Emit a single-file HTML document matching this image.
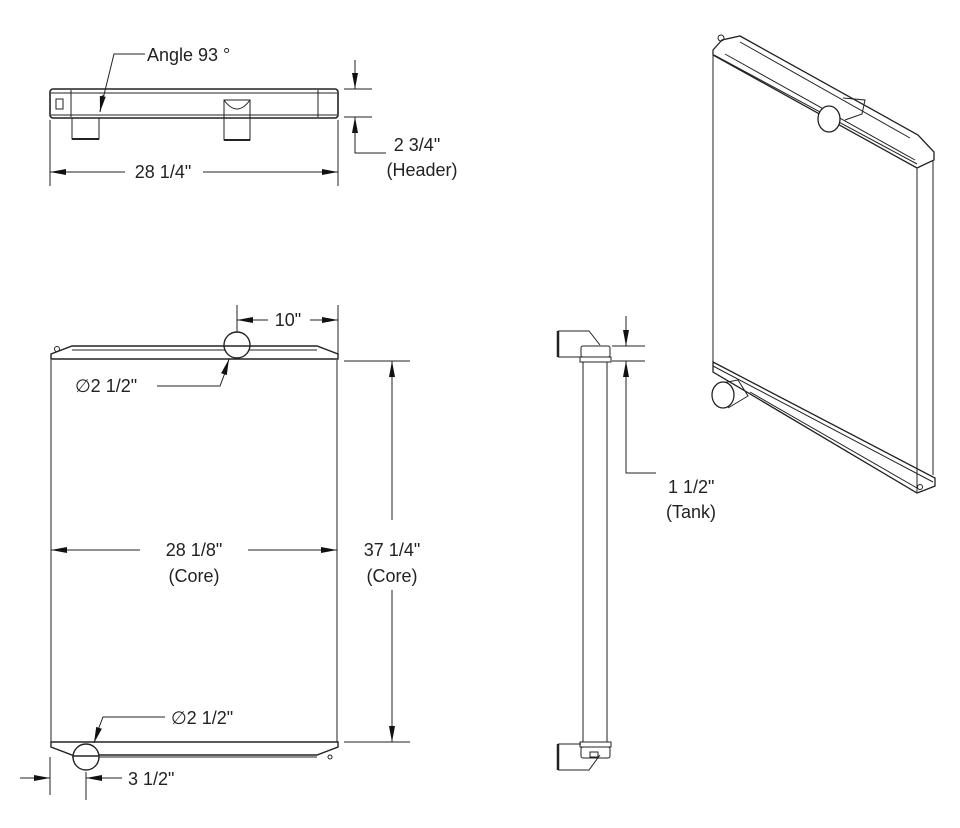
<!DOCTYPE html>
<html><head><meta charset="utf-8"><style>
html,body{margin:0;padding:0;background:#fff}
svg{display:block}
text{font-family:"Liberation Sans","DejaVu Sans",sans-serif;font-size:18px;fill:#222}
</style></head><body>
<svg width="960" height="828" viewBox="0 0 960 828" xmlns="http://www.w3.org/2000/svg">
<defs>
<marker id="a" viewBox="0 0 16 6" refX="16" refY="3" markerWidth="16" markerHeight="6" markerUnits="userSpaceOnUse" orient="auto"><path d="M0,0 L16,3 L0,6 Z" fill="#111"/></marker>
</defs>
<g fill="none" stroke="#222" stroke-width="1">
<!-- TOP VIEW -->
<rect x="50" y="89" width="288" height="29" rx="3" stroke-width="1.6"/>
<line x1="71" y1="90" x2="71" y2="117"/><line x1="318" y1="90" x2="318" y2="117"/>
<line x1="51" y1="93" x2="337" y2="93"/><line x1="51" y1="115" x2="337" y2="115"/>
<rect x="56" y="99" width="7" height="10"/>
<path d="M72 118 V139 H99 V118"/><line x1="72" y1="139" x2="99" y2="139" stroke-width="2"/>
<path d="M224 100 V140 H250 V100 Z M224 100 Q237 118 250 100"/><line x1="224" y1="140" x2="250" y2="140" stroke-width="2"/>
<line x1="50" y1="120" x2="50" y2="186"/><line x1="338" y1="120" x2="338" y2="186"/>
<line x1="125" y1="172" x2="50" y2="172" marker-end="url(#a)"/>
<line x1="203" y1="172" x2="338" y2="172" marker-end="url(#a)"/>
<polyline points="145,54 114,54 100,111"/><line x1="103" y1="95" x2="100" y2="112" marker-end="url(#a)"/>
<line x1="344" y1="89" x2="372" y2="89"/><line x1="344" y1="117" x2="372" y2="117"/>
<line x1="355" y1="60" x2="355" y2="89" marker-end="url(#a)"/>
<line x1="355" y1="145" x2="355" y2="117" marker-end="url(#a)"/>
<polyline points="355,130 355,153 386,153"/>
<!-- FRONT VIEW -->
<path d="M51 359 L51 354 L72 346 H317 L338 354 L338 359 Z" stroke-width="1.4"/>
<line x1="72" y1="350" x2="317" y2="350"/>
<circle cx="57" cy="349" r="2.5"/>
<circle cx="237" cy="345" r="13" fill="#fff" stroke-width="1.4"/><line x1="224" y1="346" x2="250" y2="346" stroke-width="1.5"/>
<line x1="51" y1="360" x2="51" y2="742"/><line x1="337" y1="360" x2="337" y2="742"/>
<path d="M51 742 H338 L338 747 L317 755 H72 L51 747 Z" stroke-width="1.4"/>
<line x1="72" y1="757" x2="317" y2="757"/>
<circle cx="330" cy="757" r="2"/>
<circle cx="86" cy="757" r="13" fill="#fff" stroke-width="1.4"/><line x1="73" y1="756" x2="99" y2="756" stroke-width="1.5"/>
<line x1="237" y1="305" x2="237" y2="332"/><line x1="338" y1="305" x2="338" y2="355"/>
<line x1="268" y1="320" x2="237" y2="320" marker-end="url(#a)"/>
<line x1="310" y1="320" x2="338" y2="320" marker-end="url(#a)"/>
<polyline points="157,386 220,386 226,370"/><line x1="224" y1="374" x2="229" y2="359" marker-end="url(#a)"/>
<line x1="344" y1="361" x2="410" y2="361"/><line x1="344" y1="742" x2="410" y2="742"/>
<line x1="392" y1="520" x2="392" y2="361" marker-end="url(#a)"/>
<line x1="392" y1="590" x2="392" y2="742" marker-end="url(#a)"/>
<line x1="140" y1="550" x2="51" y2="550" marker-end="url(#a)"/>
<line x1="248" y1="550" x2="337" y2="550" marker-end="url(#a)"/>
<polyline points="165,717 103,717 98,730"/><line x1="99" y1="728" x2="94" y2="743" marker-end="url(#a)"/>
<line x1="50" y1="757" x2="50" y2="795"/><line x1="86" y1="772" x2="86" y2="800"/>
<line x1="20" y1="778" x2="50" y2="778" marker-end="url(#a)"/>
<line x1="122" y1="778" x2="86" y2="778" marker-end="url(#a)"/>
<!-- SIDE VIEW -->
<path d="M558 331 H589 L600 345"/><line x1="558" y1="331" x2="558" y2="357" stroke-width="2.5"/><line x1="558" y1="357" x2="581" y2="357"/>
<rect x="581" y="346" width="29" height="11" rx="2"/><rect x="580" y="357" width="31" height="5"/>
<line x1="583" y1="362" x2="583" y2="742"/><line x1="607" y1="362" x2="607" y2="742"/>
<rect x="580" y="742" width="31" height="5"/><rect x="581" y="747" width="29" height="11" rx="2"/>
<line x1="558" y1="744" x2="558" y2="770" stroke-width="2.5"/><path d="M558 744 H581 M558 770 H589 L600 755"/>
<rect x="590" y="752" width="8" height="5"/>
<line x1="612" y1="346" x2="645" y2="346"/><line x1="612" y1="361" x2="645" y2="361"/>
<line x1="626" y1="316" x2="626" y2="346" marker-end="url(#a)"/>
<line x1="626" y1="390" x2="626" y2="361" marker-end="url(#a)"/>
<polyline points="626,380 626,473 656,473"/>
<!-- ISO VIEW -->
<path d="M713 50 L722 40 L740 36 L918 135 L934 152 L934 160 L917 168 L713 55 Z" stroke-width="1.3"/>
<line x1="740" y1="42" x2="910" y2="138"/><line x1="714" y1="55" x2="917" y2="164"/>
<line x1="725" y1="54" x2="915" y2="160"/>
<circle cx="721" cy="38" r="3"/>
<path d="M843 98 L865 100 L862 114 L845 120"/>
<ellipse cx="829" cy="119" rx="11" ry="13" fill="#fff" stroke-width="1.3"/>
<line x1="713" y1="55" x2="713" y2="362"/><line x1="917" y1="168" x2="917" y2="492"/><line x1="933" y1="160" x2="933" y2="475"/>
<path d="M713 362 L935 478 L935 486 L925 490 L917 493 L713 372 Z" stroke-width="1.3"/>
<line x1="713" y1="366" x2="933" y2="482"/><line x1="750" y1="392" x2="917" y2="488"/>
<path d="M722 383 L738 380 L748 396 L728 408"/>
<ellipse cx="723" cy="395" rx="11" ry="13" fill="#fff" stroke-width="1.3"/>
<circle cx="920" cy="487" r="2.5"/>
</g>
<text x="147" y="61">Angle 93 °</text>
<text x="163" y="178" text-anchor="middle">28 1/4"</text>
<text x="417" y="151" text-anchor="middle">2 3/4"</text>
<text x="422" y="176" text-anchor="middle">(Header)</text>
<text x="288" y="326" text-anchor="middle">10"</text>
<text x="75" y="392">∅2 1/2"</text>
<text x="194" y="556" text-anchor="middle">28 1/8"</text>
<text x="194" y="582" text-anchor="middle">(Core)</text>
<text x="392" y="556" text-anchor="middle">37 1/4"</text>
<text x="392" y="582" text-anchor="middle">(Core)</text>
<text x="171" y="724">∅2 1/2"</text>
<text x="128" y="785">3 1/2"</text>
<text x="668" y="493">1 1/2"</text>
<text x="666" y="518">(Tank)</text>
</svg>
</body></html>
